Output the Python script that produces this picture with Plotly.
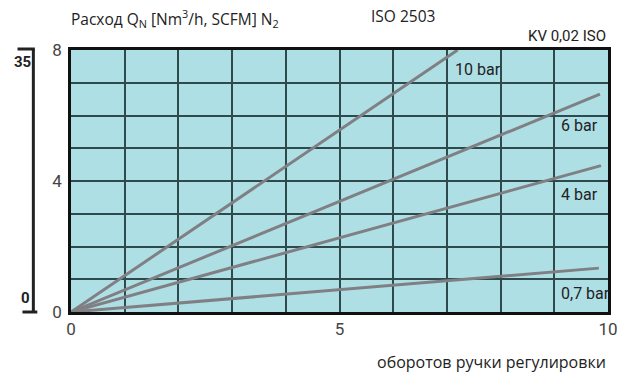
import plotly.graph_objects as go

# Flow curves: handle turns vs. flow for each inlet pressure
pressures = ["10 bar", "6 bar", "4 bar", "0,7 bar"]
turns_end = [7.2, 9.85, 9.87, 9.83]
flow_end = [8.0, 6.65, 4.47, 1.34]

# Curve label positions (turns, flow)
label_x = [7.12, 9.08, 9.08, 9.08]
label_y = [7.42, 5.68, 3.60, 0.55]

x_ticks = [0, 5, 10]
y_ticks = [0, 4, 8]
aux_scale = ["0", "35"]

tick_font = "Roboto, sans-serif"
text_font = "Open Sans, sans-serif"
grid_col = "#2e4a4c"

fig = go.Figure()
for name, xe, ye in zip(pressures, turns_end, flow_end):
    fig.add_trace(go.Scatter(
        x=[0, xe], y=[0, ye], mode="lines", name=name,
        line=dict(color="#808084", width=3), hoverinfo="skip",
        showlegend=False,
    ))

for name, lx, ly in zip(pressures, label_x, label_y):
    fig.add_annotation(x=lx, y=ly, text=name, showarrow=False,
                       xanchor="left", yanchor="middle",
                       font=dict(family=tick_font, size=16, color="#222"))

fig.update_xaxes(range=[0, 10], tickvals=x_ticks,
                 showgrid=True, gridcolor=grid_col, gridwidth=1.5,
                 minor=dict(dtick=1, showgrid=True, gridcolor=grid_col, gridwidth=1.5),
                 showline=True, linecolor="#111", linewidth=2.5, mirror=True,
                 zeroline=False, ticks="",
                 tickfont=dict(family=tick_font, size=17, color="#444"))
fig.update_yaxes(range=[0, 8], tickvals=y_ticks,
                 showgrid=True, gridcolor=grid_col, gridwidth=1.5,
                 minor=dict(dtick=1, showgrid=True, gridcolor=grid_col, gridwidth=1.5),
                 showline=True, linecolor="#111", linewidth=2.5, mirror=True,
                 zeroline=False, ticks="", ticklabelstandoff=3,
                 tickfont=dict(family=tick_font, size=17, color="#444"))

# Auxiliary scale bracket on the left
W, H, L, B = 542, 262, 71, 63
def px(xp):
    return (xp - L) / W
def py(yp):
    return (375 - B - yp) / H

bracket = dict(type="line", xref="paper", yref="paper",
               line=dict(color="#222", width=3))
fig.add_shape(**bracket, x0=px(33), x1=px(33), y0=py(312), y1=py(49))
fig.add_shape(**bracket, x0=px(17), x1=px(34.5), y0=py(49), y1=py(49))
fig.add_shape(**bracket, x0=px(22), x1=px(37), y0=py(312), y1=py(312))


def note(x, y, text, family, size, xanchor="center", bold=False):
    fig.add_annotation(xref="paper", yref="paper", x=px(x), y=py(y),
                       xanchor=xanchor, yanchor="middle",
                       text=("<b>%s</b>" % text) if bold else text,
                       showarrow=False,
                       font=dict(family=family, size=size, color="#222"))


note(22, 62, aux_scale[1], tick_font, 15, bold=True)
note(25, 298, aux_scale[0], tick_font, 15, bold=True)

# Header texts
note(69, 19, "Расход Q<sub>N</sub> [Nm<sup>3</sup>/h, SCFM] N<sub>2</sub>",
     text_font, 15.5, xanchor="left")
note(406, 16, "ISO 2503", text_font, 15.5)
note(613, 36, "KV 0,02 ISO", tick_font, 15, xanchor="right")
note(613, 362, "оборотов ручки регулировки", text_font, 16, xanchor="right")

fig.update_layout(
    width=630, height=375,
    margin=dict(l=L, r=630 - L - W, t=375 - B - H, b=B),
    plot_bgcolor="#aedfe5", paper_bgcolor="white",
)

fig.write_html("out.html")
